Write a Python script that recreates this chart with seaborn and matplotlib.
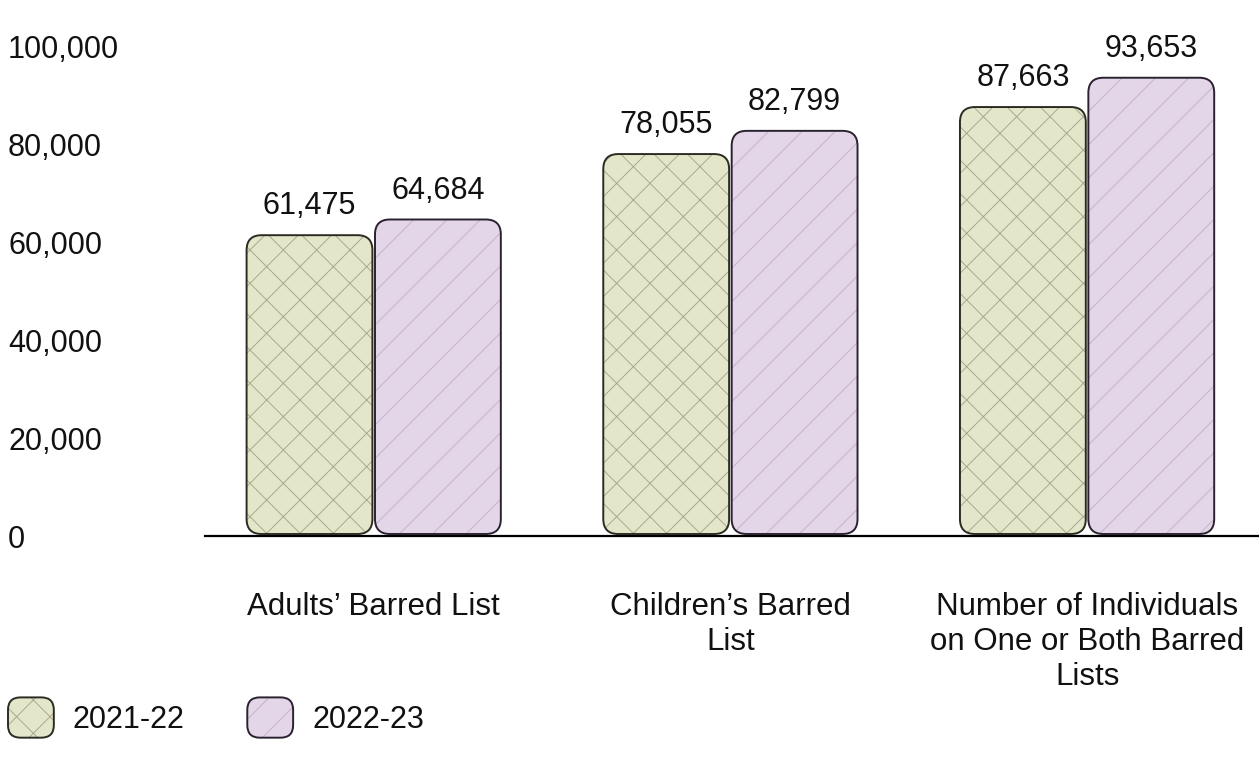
import matplotlib
matplotlib.use("Agg")
import matplotlib.pyplot as plt
import matplotlib.patches as mpatches
from matplotlib.legend_handler import HandlerBase
from matplotlib.ticker import FuncFormatter
import seaborn as sns
import pandas as pd

# ---- data ----
categories = ["Adults’ Barred List", "Children’s Barred List",
              "Number of Individuals on One or Both Barred Lists"]
tick_labels = ["Adults’ Barred List", "Children’s Barred\nList",
               "Number of Individuals\non One or Both Barred\nLists"]
years = ["2021-22", "2022-23"]
values_2021_22 = [61475, 78055, 87663]
values_2022_23 = [64684, 82799, 93653]
y_ticks = [0, 20000, 40000, 60000, 80000, 100000]

sns.set_theme(style="white")
plt.rcParams["font.family"] = ["Liberation Sans", "DejaVu Sans"]
plt.rcParams["hatch.linewidth"] = 0.7

FS = 22
fill_colors = ["#e4e6ca", "#e3d6e9"]
hatch_colors = ["#a9a991", "#c4b3c8"]
edge_colors = ["#2b2b22", "#2b2230"]
hatches = ["x", "/"]

df = pd.DataFrame({
    "category": categories * 2,
    "year": [years[0]] * 3 + [years[1]] * 3,
    "value": values_2021_22 + values_2022_23,
})

W, H = 1259, 767
fig = plt.figure(figsize=(W / 100, H / 100), dpi=100)
ax_left, ax_bottom = 205, 536
ax_h_px = 504
ax = fig.add_axes([ax_left / W, (H - ax_bottom) / H, (W - ax_left) / W, ax_h_px / H])

sns.barplot(data=df, x="category", y="value", hue="year", order=categories,
            hue_order=years, palette=fill_colors, width=0.72, gap=0.02,
            legend=False, ax=ax)

xlim = (-0.473, 2.482)
ylim = (0, 103000)
ax.set_xlim(*xlim)
ax.set_ylim(*ylim)

px_per_x = (W - ax_left) / (xlim[1] - xlim[0])
px_per_y = ax_h_px / (ylim[1] - ylim[0])
aspect = px_per_x / px_per_y
rsize = 15 / px_per_x

for i, container in enumerate(ax.containers):
    for bar in container:
        x, y, w, h = bar.get_x(), bar.get_y(), bar.get_width(), bar.get_height()
        bar.set_visible(False)
        style = f"round,pad=0,rounding_size={rsize}"
        off = 2 / px_per_y
        fillp = mpatches.FancyBboxPatch((x, y + off), w, h - off, boxstyle=style,
                                        mutation_aspect=aspect,
                                        facecolor=fill_colors[i],
                                        edgecolor=hatch_colors[i], hatch=hatches[i],
                                        linewidth=0, zorder=2)
        outp = mpatches.FancyBboxPatch((x, y + off), w, h - off, boxstyle=style,
                                       mutation_aspect=aspect, facecolor="none",
                                       edgecolor=edge_colors[i], linewidth=1.4, zorder=3)
        ax.add_patch(fillp)
        ax.add_patch(outp)
    ax.bar_label(container, labels=[f"{v:,.0f}" for v in container.datavalues],
                 padding=10, fontsize=FS, color="#111111")

# axes styling
for s in ["left", "right", "top"]:
    ax.spines[s].set_visible(False)
ax.spines["bottom"].set_color("black")
ax.spines["bottom"].set_linewidth(1.6)
ax.set_xlabel("")
ax.set_ylabel("")
ax.set_yticks(y_ticks)
ax.yaxis.set_major_formatter(FuncFormatter(lambda v, p: f"{v:,.0f}"))
ax.tick_params(axis="y", length=0, pad=(ax_left - 8) * 0.72, labelsize=FS, labelcolor="#111111")
for lab in ax.get_yticklabels():
    lab.set_horizontalalignment("left")
ax.set_xticks(range(len(categories)))
ax.set_xticklabels(tick_labels, fontsize=FS + 0.5, color="#111111", linespacing=1.22,
                   multialignment="center", va="top")
ax.tick_params(axis="x", length=0, pad=40)


class RoundedHandler(HandlerBase):
    def __init__(self, idx):
        super().__init__()
        self.idx = idx

    def create_artists(self, legend, orig_handle, xdescent, ydescent, width,
                       height, fontsize, trans):
        i = self.idx
        style = "round,pad=0,rounding_size=9"
        hh = 29
        x0, y0 = -xdescent, -ydescent + height / 2 - hh / 2
        p1 = mpatches.FancyBboxPatch((x0, y0), width, hh,
                                     boxstyle=style, facecolor=fill_colors[i],
                                     edgecolor=hatch_colors[i], hatch=hatches[i],
                                     linewidth=0, transform=trans)
        p2 = mpatches.FancyBboxPatch((x0, y0), width, hh,
                                     boxstyle=style, facecolor="none",
                                     edgecolor=edge_colors[i], linewidth=1.4,
                                     transform=trans)
        return [p1, p2]


handles = [mpatches.Patch(label=y) for y in years]
fig.legend(handles=handles, labels=years, loc="lower left",
           bbox_to_anchor=(8 / W, 32 / H), ncol=2, frameon=False, fontsize=FS,
           handlelength=1.5, handleheight=1.0, handletextpad=0.62,
           columnspacing=2.05, borderpad=0.0, borderaxespad=0.0,
           labelcolor="#111111",
           handler_map={handles[0]: RoundedHandler(0), handles[1]: RoundedHandler(1)})

fig.savefig("out.png", dpi=100)
